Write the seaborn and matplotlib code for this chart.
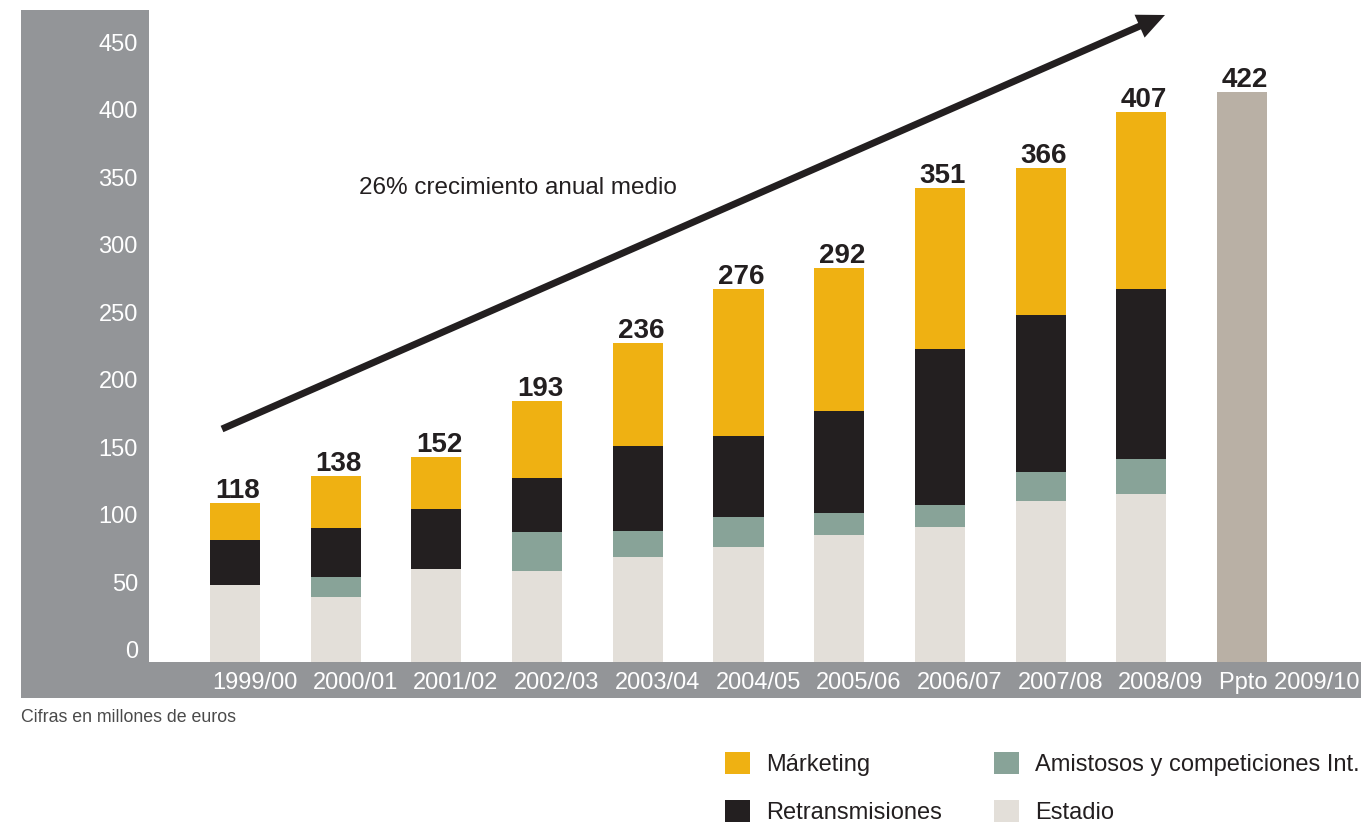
import numpy as np
import pandas as pd
import matplotlib
matplotlib.use("Agg")
import matplotlib.pyplot as plt
import matplotlib.transforms as mtransforms
from matplotlib.patches import Rectangle, Patch
import seaborn as sns

# Revenue by season (millions of euros)
seasons = ["1999/00", "2000/01", "2001/02", "2002/03", "2003/04", "2004/05",
           "2005/06", "2006/07", "2007/08", "2008/09"]
budget_label = "Ppto 2009/10"
budget_total = 422

estadio = [57, 48, 69, 67, 78, 85, 94, 100, 119, 124]
amistosos = [0, 15, 0, 29, 19, 22, 16, 16, 22, 26]
retransmisiones = [33, 36, 44, 40, 63, 60, 76, 116, 116, 126]
marketing = [28, 39, 39, 57, 76, 109, 106, 119, 109, 131]

yticks = [0, 50, 100, 150, 200, 250, 300, 350, 400, 450]

C_MARK = "#EFB112"
C_RET = "#231F20"
C_AMI = "#88A398"
C_EST = "#E3DFD9"
C_PPTO = "#B9B0A5"
C_BAND = "#939598"
C_TEXT = "#231F20"

sns.set_theme(style="white")
plt.rcParams["font.family"] = ["Liberation Sans", "DejaVu Sans"]

categories = seasons + [budget_label]
df = pd.DataFrame({
    "season": seasons,
    "Estadio": estadio,
    "Amistosos": amistosos,
    "Retransmisiones": retransmisiones,
    "Marketing": marketing,
})
df["c_est"] = df["Estadio"]
df["c_ami"] = df["c_est"] + df["Amistosos"]
df["c_ret"] = df["c_ami"] + df["Retransmisiones"]
df["c_mark"] = df["c_ret"] + df["Marketing"]
budget_df = pd.DataFrame({"season": [budget_label], "total": [budget_total]})

W, H = 1361, 832
fig = plt.figure(figsize=(W / 100, H / 100), dpi=100)

# grey frame behind the plotting area
fig.add_artist(Rectangle((21 / W, (H - 698) / H), (W - 21) / W, 688 / H,
                         transform=fig.transFigure, facecolor=C_BAND,
                         edgecolor="none", zorder=0))

ax = fig.add_axes([149 / W, (H - 662) / H, (W - 149) / W, 652 / H])
ax.set_facecolor("white")
ax.set_zorder(1)

bw = 0.497
# stacked bars drawn back to front as cumulative sums
for col, color in [("c_mark", C_MARK), ("c_ret", C_RET),
                   ("c_ami", C_AMI), ("c_est", C_EST)]:
    sns.barplot(data=df, x="season", y=col, order=categories, color=color,
                width=bw, saturation=1, edgecolor="none", linewidth=0, ax=ax,
                errorbar=None)
sns.barplot(data=budget_df, x="season", y="total", order=categories,
            color=C_PPTO, width=bw, saturation=1, edgecolor="none",
            linewidth=0, ax=ax, errorbar=None)

# total labels
totals = list(df["c_mark"]) + [budget_total]
for i, t in enumerate(totals):
    ax.annotate(f"{t}", xy=(i, t), xytext=(3, 5), textcoords="offset pixels",
                ha="center", va="baseline", fontsize=20, fontweight="bold",
                color=C_TEXT)

px_per_unit = 1.351
ax.set_ylim(0, 652 / px_per_unit)
xmin = -0.854
ax.set_xlim(xmin, xmin + 1212 / 100.7)

ax.set_xlabel("")
ax.set_ylabel("")
ax.set_yticks(yticks)
ax.set_yticklabels([str(v) for v in yticks])
ax.tick_params(axis="y", length=0, pad=8, labelsize=17, labelcolor="white")
ax.set_xticks([i - bw / 2 for i in range(len(categories))])
ax.set_xticklabels(categories, ha="left")
ax.tick_params(axis="x", length=0, pad=7, labelsize=17, labelcolor="white")
shift = mtransforms.ScaledTranslation(0, 12 / 100, fig.dpi_scale_trans)
for lab in ax.get_yticklabels():
    lab.set_transform(lab.get_transform() + shift)
xshift = mtransforms.ScaledTranslation(2 / 100, 0, fig.dpi_scale_trans)
for lab in ax.get_xticklabels():
    lab.set_transform(lab.get_transform() + xshift)
for s in ax.spines.values():
    s.set_visible(False)
ax.grid(False)

# growth arrow
ax.annotate("", xy=((1165 - 149) / 1212, (662 - 15) / 652),
            xytext=((222 - 149) / 1212, (662 - 429) / 652),
            xycoords="axes fraction", textcoords="axes fraction",
            arrowprops=dict(width=5, headwidth=18, headlength=20,
                            facecolor=C_TEXT, edgecolor="none", lw=0,
                            shrink=0),
            annotation_clip=False)
ax.text((359 - 149) / 1212, (662 - 188) / 652, "26% crecimiento anual medio",
        transform=ax.transAxes, ha="left", va="center", fontsize=17.5,
        color=C_TEXT)

fig.text(21 / W, 1 - 718 / H, "Cifras en millones de euros", ha="left",
         va="center", fontsize=12.8, color="#4A4A4A")

handles = [Patch(facecolor=C_MARK, edgecolor="none", label="Márketing"),
           Patch(facecolor=C_RET, edgecolor="none", label="Retransmisiones"),
           Patch(facecolor=C_AMI, edgecolor="none",
                 label="Amistosos y competiciones Int."),
           Patch(facecolor=C_EST, edgecolor="none", label="Estadio")]
fig.legend(handles=handles, ncol=2, loc="upper left",
           bbox_to_anchor=(725 / W, 1 - 752 / H), frameon=False,
           fontsize=17, handlelength=1.06, handleheight=1.06,
           handletextpad=0.68, columnspacing=2.2, labelspacing=1.0,
           borderpad=0, borderaxespad=0, labelcolor=C_TEXT)

fig.savefig("out.png", dpi=100)
